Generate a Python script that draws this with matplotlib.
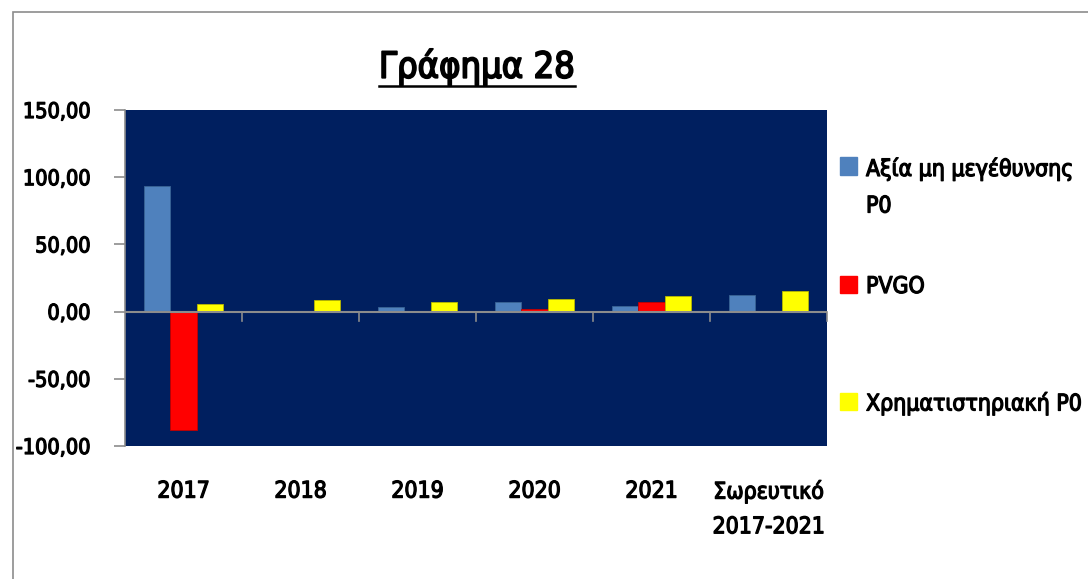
import matplotlib
matplotlib.use("Agg")
import matplotlib.pyplot as plt
from matplotlib.patches import Rectangle
from matplotlib.lines import Line2D
import matplotlib.patheffects as pe
import numpy as np

categories = ["2017", "2018", "2019", "2020", "2021", "Σωρευτικό\n2017-2021"]
series_names = ["Αξία μη μεγέθυνσης\nΡ0", "PVGO", "Χρηματιστηριακή Ρ0"]
value_no_growth = [93.8, 0.0, 3.5, 7.4, 4.2, 12.2]
pvgo = [-88.0, 0.0, 0.0, 1.7, 7.2, 0.0]
market_p0 = [6.0, 8.9, 7.4, 9.7, 11.7, 15.1]
series_colors = ["#4F81BD", "#FF0000", "#FFFF00"]
edge_colors = ["#3A6494", "#C00000", "#B8B800"]
yticks = [-100, -50, 0, 50, 100, 150]
title = "Γράφημα 28"

plt.rcParams["font.family"] = ["DejaVu Sans"]
plt.rcParams["font.stretch"] = "condensed"
plt.rcParams["font.weight"] = "normal"

# slightly heavier strokes for the narrow face
heavy = [pe.withStroke(linewidth=0.9, foreground="black")]
heavy_title = [pe.withStroke(linewidth=1.3, foreground="black")]

W, H = 1088, 579
fig = plt.figure(figsize=(W / 100, H / 100), dpi=100)
fig.patch.set_facecolor("white")

# outer chart frame (only top and left edges fall inside the canvas)
fig.patches.append(Rectangle((13 / W, -0.5), 2.0, 1.5 - 12 / H, transform=fig.transFigure,
                             fill=False, edgecolor="#8C8C8C", lw=1.2))

ax = fig.add_axes([125 / W, 1 - 446 / H, (827 - 125) / W, (446 - 110) / H])
ax.set_facecolor("#001F5F")

x = np.arange(len(categories))
bw = 0.225
for i, (vals, c, ec) in enumerate(zip([value_no_growth, pvgo, market_p0], series_colors, edge_colors)):
    ax.bar(x + (i - 1) * bw, vals, width=bw, color=c, edgecolor=ec, linewidth=0.6, zorder=3)

ax.set_xlim(-0.5, len(categories) - 0.5)
ax.set_ylim(-100, 150)
ax.set_yticks(yticks)
ax.set_yticklabels([f"{v:.2f}".replace(".", ",") for v in yticks], fontsize=15.5)
for lbl in ax.get_yticklabels():
    lbl.set_path_effects(heavy)
ax.tick_params(axis="y", direction="out", length=8, width=1.2, color="#8C8C8C", pad=17)
for s in ["top", "right", "bottom"]:
    ax.spines[s].set_visible(False)
ax.spines["left"].set_color("#8C8C8C")
ax.spines["left"].set_linewidth(1.2)

# zero line and category separators
ax.axhline(0, color="#8C8C8C", lw=1.5, zorder=4)
ax.set_xticks([])
for b in np.arange(0.5, len(categories) + 0.5, 1.0):
    ax.plot([b, b], [0, -7], color="#8C8C8C", lw=1.2, zorder=4, clip_on=False)

for xi, lab in zip(x, categories):
    ax.text(xi, -125, lab, ha="center", va="top", fontsize=16.5, linespacing=1.65,
            transform=ax.transData, clip_on=False, path_effects=heavy)

# title with underline
t = fig.text(477 / W, 1 - 67 / H, title, ha="center", va="center", fontsize=26,
             path_effects=heavy_title)
fig.canvas.draw()
bb = t.get_window_extent()
uy = H - 86
fig.lines.append(Line2D([bb.x0 / W, bb.x1 / W], [uy / H, uy / H], transform=fig.transFigure,
                        color="black", lw=1.8))

# legend
leg_rows = [166, 284, 401]
for name, c, yy in zip(series_names, series_colors, leg_rows):
    fig.patches.append(Rectangle((840 / W, 1 - (yy + 8.5) / H), 17 / W, 17 / H,
                                 transform=fig.transFigure, color=c))
    fig.text(866 / W, 1 - (yy - 9) / H, name, ha="left", va="top", fontsize=16.5,
             linespacing=1.75, path_effects=heavy)

fig.savefig("out.png", dpi=100, facecolor="white")
